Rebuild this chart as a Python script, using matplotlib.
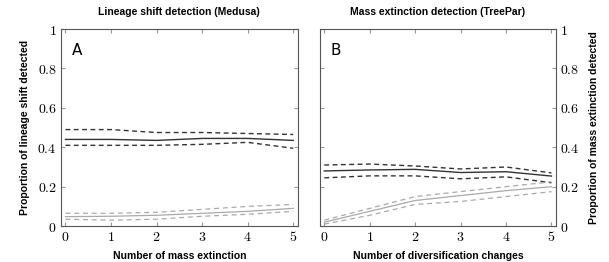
import numpy as np
import matplotlib.pyplot as plt

plt.rcParams['mathtext.fontset'] = 'cm'

# x values
n_changes = [0, 1, 2, 3, 4, 5]

# panel A (Medusa)
a_main = [0.44, 0.44, 0.435, 0.445, 0.445, 0.435]
a_main_hi = [0.49, 0.49, 0.475, 0.475, 0.47, 0.465]
a_main_lo = [0.41, 0.41, 0.41, 0.415, 0.425, 0.395]
a_other = [0.048, 0.05, 0.055, 0.065, 0.075, 0.09]
a_other_hi = [0.065, 0.065, 0.07, 0.085, 0.10, 0.11]
a_other_lo = [0.035, 0.03, 0.035, 0.05, 0.06, 0.075]

# panel B (TreePar)
b_main = [0.28, 0.285, 0.288, 0.272, 0.276, 0.254]
b_main_hi = [0.31, 0.315, 0.305, 0.29, 0.30, 0.27]
b_main_lo = [0.245, 0.255, 0.255, 0.24, 0.25, 0.22]
b_other = [0.02, 0.075, 0.13, 0.155, 0.18, 0.20]
b_other_hi = [0.03, 0.09, 0.15, 0.175, 0.2, 0.225]
b_other_lo = [0.01, 0.055, 0.11, 0.125, 0.15, 0.175]

yticks = [0, 0.2, 0.4, 0.6, 0.8, 1]
ytick_labels = ['$0$', '$0.2$', '$0.4$', '$0.6$', '$0.8$', '$1$']

fig = plt.figure(figsize=(6.09, 2.62), dpi=100)
ax1 = fig.add_axes([0.100, 0.137, 0.389, 0.752])
ax2 = fig.add_axes([0.525, 0.137, 0.388, 0.752])

dark = '#333333'
light = '#aaaaaa'
lab_font = dict(fontsize=7.5, fontweight='bold', family='Liberation Sans')

def draw(ax, main, hi, lo, other, ohi, olo):
    ax.plot(n_changes, main, color=dark, lw=1.0)
    ax.plot(n_changes, hi, color=dark, lw=1.0, ls=(0, (3.5, 2.5)))
    ax.plot(n_changes, lo, color=dark, lw=1.0, ls=(0, (3.5, 2.5)))
    ax.plot(n_changes, other, color=light, lw=0.9)
    ax.plot(n_changes, ohi, color=light, lw=0.9, ls=(0, (4, 3)))
    ax.plot(n_changes, olo, color=light, lw=0.9, ls=(0, (4, 3)))
    ax.set_xlim(-0.1, 5.1)
    ax.set_ylim(0, 1)
    ax.set_xticks(n_changes)
    ax.set_xticklabels(['$%d$' % v for v in n_changes])
    ax.set_yticks(yticks)
    ax.set_yticklabels(ytick_labels)
    ax.tick_params(direction='in', length=3, color='#999999', labelsize=10,
                   top=True, right=True, pad=3)
    for s in ax.spines.values():
        s.set_color('#555555')
        s.set_linewidth(0.8)

draw(ax1, a_main, a_main_hi, a_main_lo, a_other, a_other_hi, a_other_lo)
draw(ax2, b_main, b_main_hi, b_main_lo, b_other, b_other_hi, b_other_lo)

ax1.set_title('Lineage shift detection (Medusa)', pad=10, **lab_font)
ax1.set_xlabel('Number of mass extinction', labelpad=5, **lab_font)
ax1.set_ylabel('Proportion of lineage shift detected', labelpad=5, **lab_font)
ax1.text(0.045, 0.87, 'A', transform=ax1.transAxes, fontsize=11)

ax2.yaxis.tick_right()
ax2.tick_params(left=True, labelleft=False, labelright=True)
ax2.yaxis.set_label_position('right')
ax2.set_title('Mass extinction detection (TreePar)', pad=10, **lab_font)
ax2.set_xlabel('Number of diversification changes', labelpad=5, **lab_font)
ax2.set_ylabel('Proportion of mass extinction detected', labelpad=7, **lab_font)
ax2.text(0.045, 0.87, 'B', transform=ax2.transAxes, fontsize=11)

fig.savefig('out.png', dpi=100)
